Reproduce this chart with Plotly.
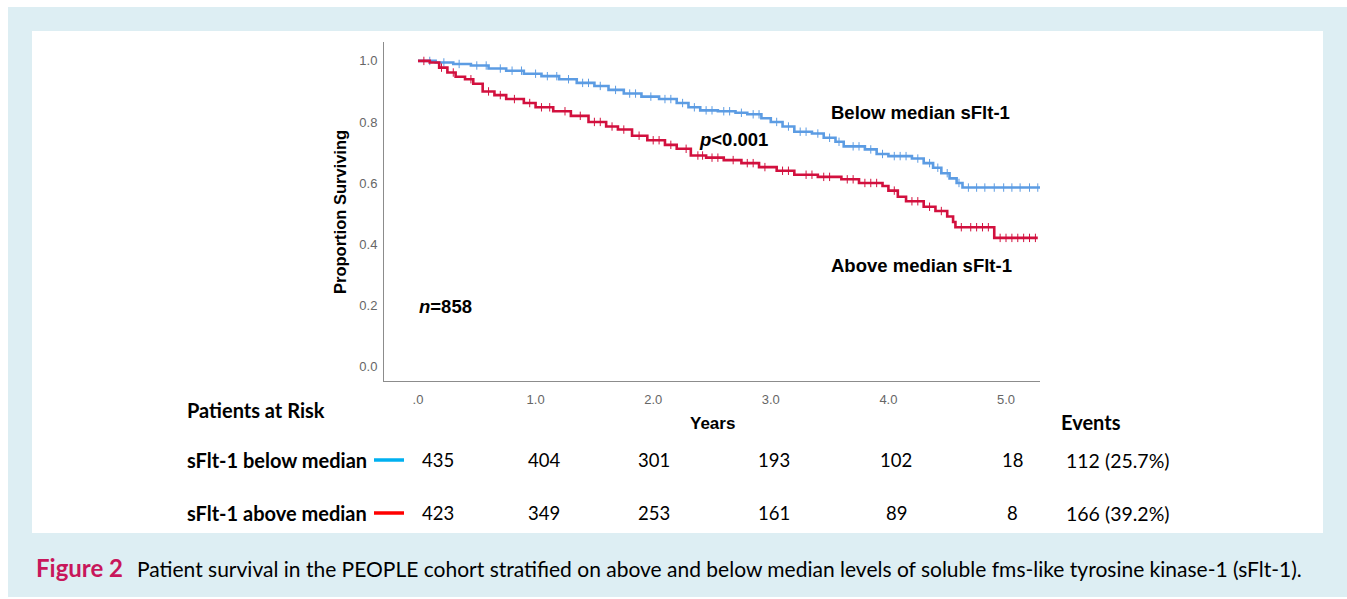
import numpy as np
import plotly.graph_objects as go

# ---------------- data ----------------
below_t = [0.0, 0.15, 0.3, 0.45, 0.6, 0.75, 0.9, 1.05, 1.2, 1.35, 1.5, 1.62, 1.75, 1.9, 2.05, 2.2, 2.3,
           2.4, 2.55, 2.7, 2.8, 2.92, 3.0, 3.1, 3.2, 3.35, 3.45, 3.55, 3.62, 3.8, 3.9, 4.0, 4.2, 4.3,
           4.38, 4.45, 4.52, 4.58, 4.63, 5.3]
below_s = [1.0, 0.995, 0.99, 0.985, 0.975, 0.968, 0.958, 0.95, 0.94, 0.928, 0.918, 0.905, 0.893, 0.883,
           0.875, 0.862, 0.848, 0.838, 0.835, 0.83, 0.825, 0.812, 0.80, 0.785, 0.768, 0.762, 0.748, 0.735,
           0.72, 0.71, 0.695, 0.688, 0.68, 0.665, 0.65, 0.632, 0.615, 0.60, 0.585, 0.585]
below_cens = [0.1, 0.22, 0.35, 0.5, 0.58, 0.7, 0.8, 0.88, 1.0, 1.1, 1.18, 1.28, 1.4, 1.45, 1.55, 1.68, 1.8,
              1.85, 1.98, 2.1, 2.15, 2.25, 2.35, 2.45, 2.5, 2.6, 2.65, 2.75, 2.85, 2.9, 3.05, 3.15, 3.25,
              3.3, 3.4, 3.5, 3.58, 3.7, 3.75, 3.85, 3.95, 4.05, 4.1, 4.15, 4.25, 4.35, 4.42, 4.5, 4.6,
              4.68, 4.75, 4.82, 4.9, 4.98, 5.05, 5.12, 5.2, 5.27]

above_t = [0.0, 0.1, 0.18, 0.25, 0.32, 0.4, 0.47, 0.55, 0.65, 0.75, 0.9, 1.0, 1.15, 1.3, 1.45, 1.6, 1.7,
           1.82, 1.95, 2.1, 2.2, 2.32, 2.45, 2.6, 2.75, 2.9, 3.05, 3.2, 3.4, 3.6, 3.75, 3.95, 4.0, 4.08,
           4.15, 4.3, 4.4, 4.5, 4.55, 4.57, 4.9, 5.27]
above_s = [1.0, 0.995, 0.978, 0.962, 0.948, 0.94, 0.925, 0.90, 0.888, 0.875, 0.862, 0.848, 0.835, 0.82,
           0.80, 0.785, 0.775, 0.755, 0.74, 0.725, 0.712, 0.69, 0.683, 0.675, 0.665, 0.652, 0.64, 0.627,
           0.62, 0.612, 0.60, 0.59, 0.575, 0.555, 0.54, 0.522, 0.508, 0.49, 0.472, 0.455, 0.42, 0.42]
above_cens = [0.05, 0.2, 0.3, 0.45, 0.6, 0.7, 0.82, 0.95, 1.05, 1.12, 1.25, 1.38, 1.5, 1.55, 1.65, 1.75,
              1.88, 2.0, 2.05, 2.15, 2.28, 2.38, 2.42, 2.5, 2.55, 2.68, 2.8, 2.85, 2.95, 3.1, 3.15, 3.3,
              3.35, 3.45, 3.5, 3.65, 3.7, 3.8, 3.85, 3.9, 4.05, 4.2, 4.25, 4.35, 4.45, 4.62, 4.7, 4.75,
              4.8, 4.85, 4.95, 5.0, 5.05, 5.1, 5.15, 5.2, 5.25]

x_tickvals = [0, 1, 2, 3, 4, 5]
x_ticktext = [".0", "1.0", "2.0", "3.0", "4.0", "5.0"]
y_tickvals = [0, 0.2, 0.4, 0.6, 0.8, 1.0]
y_ticktext = ["0.0", "0.2", "0.4", "0.6", "0.8", "1.0"]

risk_years = [0, 1, 2, 3, 4, 5]
risk_below = ["435", "404", "301", "193", "102", "18"]
risk_above = ["423", "349", "253", "161", "89", "8"]
events_below = "112 (25.7%)"
events_above = "166 (39.2%)"
row_labels = ["sFlt-1 below median", "sFlt-1 above median"]

# ---------------- styling ----------------
W, H = 1347, 599
BLUE = "#5c9ce3"
RED = "#d2103e"
BAND = "#ddeef3"
ARIAL = "Liberation Sans, Arial, sans-serif"
NARROW = "Liberation Sans Narrow, Arial Narrow, Liberation Sans, sans-serif"
CAL = "Lato, Carlito, Calibri, sans-serif"


def px(x, y):
    return x / W, 1 - y / H


def step_at(ts, ss, q):
    idx = np.searchsorted(np.array(ts), np.array(q), side="right") - 1
    return np.array(ss)[idx]


fig = go.Figure()
for ts, ss, cens, col in [(below_t, below_s, below_cens, BLUE), (above_t, above_s, above_cens, RED)]:
    fig.add_trace(go.Scatter(x=ts, y=ss, mode="lines", line=dict(color=col, width=2.6, shape="hv"),
                             hoverinfo="skip", showlegend=False))
    fig.add_trace(go.Scatter(x=cens, y=step_at(ts, ss, cens), mode="markers",
                             marker=dict(symbol="line-ns", size=6, line=dict(color=col, width=1)),
                             showlegend=False))

# plot area pixels
x0p, x1p, y0p, y1p = 384, 1040, 42, 381
fig.update_layout(
    width=W, height=H, margin=dict(l=0, r=0, t=0, b=0),
    paper_bgcolor="white", plot_bgcolor="rgba(0,0,0,0)",
    xaxis=dict(domain=[x0p / W, x1p / W], range=[-0.289, 5.289], tickvals=x_tickvals, ticktext=x_ticktext,
               showgrid=False, zeroline=False, showline=True, linecolor="#8c8c8c", linewidth=1,
               ticks="", ticklabelstandoff=6, tickfont=dict(family=NARROW, size=13, color="#666666")),
    yaxis=dict(domain=[1 - y1p / H, 1 - y0p / H], range=[-0.049, 1.062], tickvals=y_tickvals,
               ticktext=y_ticktext, showgrid=False, zeroline=False, showline=True, linecolor="#8c8c8c",
               linewidth=1, ticks="", ticklabelstandoff=3,
               tickfont=dict(family=NARROW, size=13, color="#666666")),
)

shapes = []
bx0, by0 = px(8, 7)
bx1, by1 = px(1347, 597)
shapes.append(dict(type="rect", xref="paper", yref="paper", x0=bx0, y0=by1, x1=bx1, y1=by0,
                   fillcolor=BAND, line=dict(width=0), layer="below"))
wx0, wy0 = px(32, 31)
wx1, wy1 = px(1323, 533)
shapes.append(dict(type="rect", xref="paper", yref="paper", x0=wx0, y0=wy1, x1=wx1, y1=wy0,
                   fillcolor="white", line=dict(width=0), layer="below"))
# legend line swatches in the at-risk table
for yy, col in [(460, "#00b0f0"), (513, "#ff0000")]:
    a0, b0 = px(374, yy)
    a1, _ = px(404, yy)
    shapes.append(dict(type="line", xref="paper", yref="paper", x0=a0, x1=a1, y0=b0, y1=b0,
                       line=dict(color=col, width=3.5)))
fig.update_layout(shapes=shapes)

ann = []


def text(x, y, s, size, family, color="black", anchor="left", angle=0):
    xx, yy = px(x, y)
    ann.append(dict(x=xx, y=yy, xref="paper", yref="paper", text=s, showarrow=False, xanchor=anchor,
                    yanchor="middle", textangle=angle, font=dict(family=family, size=size, color=color)))


text(340, 212, "<b>Proportion Surviving</b>", 16.5, ARIAL, angle=-90, anchor="center")
text(712, 424, "<b>Years</b>", 17, ARIAL, anchor="center")
text(829, 112, "<b>Below median sFlt-1</b>", 18.5, ARIAL)
text(829, 265, "<b>Above median sFlt-1</b>", 18.5, ARIAL)
text(697, 140, "<b><i>p</i><0.001</b>", 18.5, ARIAL)
text(417, 307, "<b><i>n</i>=858</b>", 18.5, ARIAL)

text(185, 410, "<b>Patients at Risk</b>", 20, CAL)
text(1059, 422, "<b>Events</b>", 20, CAL)
text(185, 460, "<b>" + row_labels[0] + "</b>", 20, CAL)
text(185, 513, "<b>" + row_labels[1] + "</b>", 20, CAL)

col_shift = [20, 8, 1, 3, 8, 6]
for i, yr in enumerate(risk_years):
    for yy, vals in [(460, risk_below), (513, risk_above)]:
        ann.append(dict(x=yr, y=1 - yy / H, xref="x", yref="paper", text=vals[i], showarrow=False,
                        xanchor="center", yanchor="middle", xshift=col_shift[i],
                        font=dict(family=CAL, size=18.5, color="black")))
text(1118, 460, events_below, 19.5, CAL, anchor="center")
text(1118, 513, events_above, 19.5, CAL, anchor="center")

text(34, 567, "<b>Figure 2</b>", 24, CAL, color="#c8175b")
text(135, 568, "Patient survival in the PEOPLE cohort stratified on above and below median levels of soluble "
               "fms-like tyrosine kinase-1 (sFlt-1).", 21, CAL)

fig.update_layout(annotations=ann)
fig.write_html("out.html")
